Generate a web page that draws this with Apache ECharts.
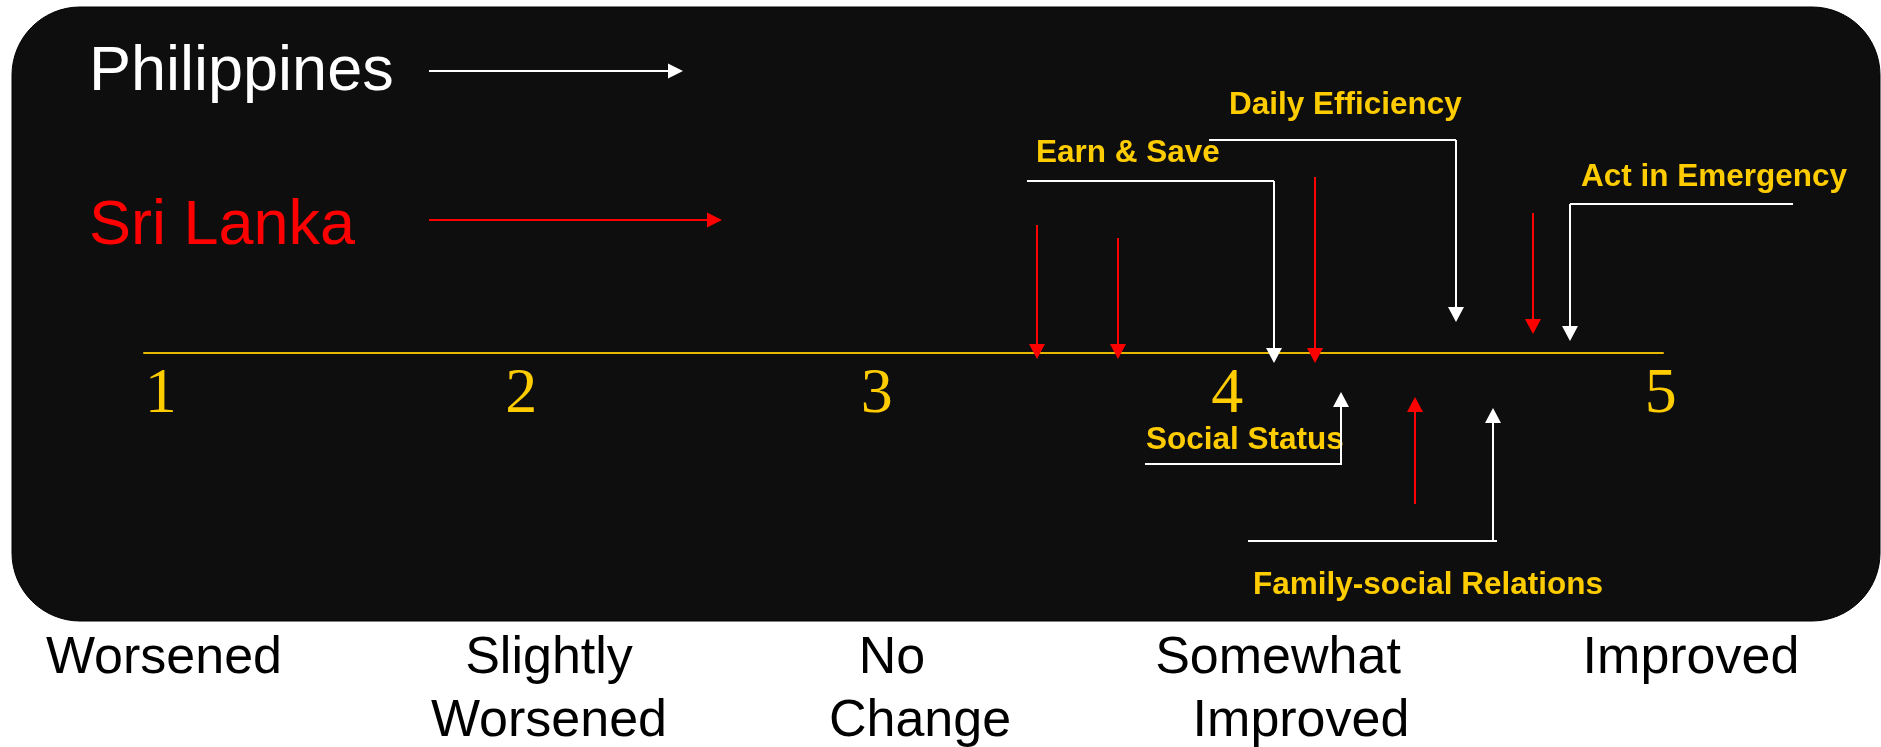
<!DOCTYPE html>
<html>
<head>
<meta charset="utf-8">
<title>Change after training: Philippines vs Sri Lanka</title>
<script src="https://cdn.jsdelivr.net/npm/echarts@6/dist/echarts.min.js"></script>
<style>
  html, body { margin: 0; padding: 0; background: #ffffff; }
  #chart { width: 1881px; height: 747px; }
</style>
</head>
<body>
<div id="chart"></div>
<script>
// ---------- data ----------
const countries = ['Philippines', 'Sri Lanka'];
const categories = ['Earn & Save', 'Daily Efficiency', 'Act in Emergency', 'Social Status', 'Family-social Relations'];
const philippines = [4.04, 4.53, 4.84, 4.22, 4.63];
const sriLanka = [3.40, 4.15, 4.74, 3.62, 4.42];
const scaleValues = [1, 2, 3, 4, 5];
const scaleLabels = ['1', '2', '3', '4', '5'];
const answerLabels = [['Worsened'], ['Slightly', 'Worsened'], ['No', 'Change'], ['Somewhat', 'Improved'], ['Improved']];

// ---------- styling / layout ----------
const GOLD = '#FFCC00';
const AXIS_GOLD = '#E6B800';
const WHITE = '#FFFFFF';
const RED = '#FF0000';
const PANEL = '#0E0E0E';
const SANS = '"Liberation Sans", Arial, Helvetica, sans-serif';
const SERIF = '"Liberation Serif", "Times New Roman", serif';
const LINE_Y = 353;            // scale line, px from top
const HEAD_LEN = 15, HEAD_W = 16;
const LABEL_FONT = 31.5;
const MID = 0.265;             // baseline offset of a middle-aligned sans line, in em

// arrow shafts: px from the scale line (negative = above); leaders and label offsets in px
const phShape = [
  { from: -172, to: 10,  leaderLeft: 247, leaderRight: 0,   textDx: 9,  textDy: -19 },
  { from: -213, to: -31, leaderLeft: 247, leaderRight: 0,   textDx: 20, textDy: -26 },
  { from: -149, to: -12, leaderLeft: 0,   leaderRight: 223, textDx: 11, textDy: -18 },
  { from: 111,  to: 39,  leaderLeft: 196, leaderRight: 1,   textDx: 1,  textDy: -15 },
  { from: 188,  to: 55,  leaderLeft: 245, leaderRight: 4,   textDx: 5,  textDy: 53 }
];
const slShape = [
  { from: -128, to: 6 },
  { from: -176, to: 10 },
  { from: -140, to: -19 },
  { from: -115, to: 6 },
  { from: 151,  to: 44 }
];

// small horizontal nudges for the hand-set scale captions
const digitNudge = [13, 3, -12, -32, 31];
const answerNudge = [[3], [8.5, 8.5], [-28, 0], [-21.5, 1.5], [12]];

function shiftPad(d) {
  return [0, d < 0 ? -2 * d : 0, 0, d > 0 ? 2 * d : 0];
}

const digitRich = {};
scaleValues.forEach(function (v, i) {
  digitRich['n' + i] = {
    fontFamily: SERIF, fontSize: 64, lineHeight: 64, color: GOLD,
    align: 'center', padding: shiftPad(digitNudge[i])
  };
});

const answerRich = {};
answerLabels.forEach(function (lines, i) {
  lines.forEach(function (t, j) {
    answerRich['b' + i + '_' + j] = {
      fontFamily: SANS, fontSize: 52, lineHeight: 63, color: '#000000',
      align: 'center', padding: shiftPad(answerNudge[i][j])
    };
  });
});

function textStyle(text, font, fill) {
  return {
    text: text, font: font, fill: fill,
    align: 'left', verticalAlign: 'middle',
    textAlign: 'left', textVerticalAlign: 'middle'
  };
}

function arrowRenderer(color, shapes, withLabels) {
  return function (params, api) {
    const i = params.dataIndex;
    const s = shapes[i];
    const v = api.value(0);
    const x = Math.round(api.coord([v, 0])[0]);
    const y0 = api.coord([v, s.from])[1];
    const y1 = api.coord([v, s.to])[1];
    const dir = y1 > y0 ? 1 : -1;
    const base = y1 - dir * HEAD_LEN;
    const children = [];
    if (withLabels) {
      const left = x - s.leaderLeft;
      const right = x + s.leaderRight;
      const baseline = y0 + s.textDy;
      children.push({
        type: 'text',
        x: left + s.textDx,
        y: baseline - MID * LABEL_FONT,
        style: textStyle(categories[i], 'bold ' + LABEL_FONT + 'px ' + SANS, GOLD)
      });
      children.push({
        type: 'line',
        shape: { x1: left, y1: y0, x2: right, y2: y0 },
        style: { stroke: color, lineWidth: 2 }
      });
    }
    children.push({
      type: 'line',
      shape: { x1: x, y1: y0, x2: x, y2: base },
      style: { stroke: color, lineWidth: 2 }
    });
    children.push({
      type: 'polygon',
      shape: { points: [[x - HEAD_W / 2, base], [x + HEAD_W / 2, base], [x, y1]] },
      style: { fill: color }
    });
    return { type: 'group', children: children };
  };
}

function legendArrow(y, x0, x1, color) {
  return [
    { type: 'line', shape: { x1: x0, y1: y, x2: x1 - HEAD_LEN, y2: y }, style: { stroke: color, lineWidth: 2 } },
    { type: 'polygon', shape: { points: [[x1 - HEAD_LEN, y - 7.5], [x1 - HEAD_LEN, y + 7.5], [x1, y]] }, style: { fill: color } }
  ];
}

const chart = echarts.init(document.getElementById('chart'), null, { renderer: 'canvas' });

const option = {
  animation: false,
  backgroundColor: '#FFFFFF',
  graphic: {
    elements: [
      {
        type: 'rect', z: -10,
        shape: { x: 12, y: 7, width: 1868, height: 614, r: 68 },
        style: { fill: PANEL, stroke: '#000000', lineWidth: 1 }
      },
      {
        type: 'text', x: 89, y: 89 - MID * 63,
        style: textStyle(countries[0], '63px ' + SANS, WHITE)
      },
      {
        type: 'text', x: 89, y: 243 - MID * 63,
        style: textStyle(countries[1], '63px ' + SANS, RED)
      }
    ].concat(legendArrow(71, 429, 683, WHITE)).concat(legendArrow(220, 429, 722, RED))
  },
  grid: [
    // plot area ends on the scale line; arrows below it extend past the grid edge
    { left: 144, right: 218, top: 0, height: LINE_Y, outerBoundsMode: 'none', containLabel: false },
    { left: 161, right: 202, top: 610, height: 2, outerBoundsMode: 'none', containLabel: false }
  ],
  xAxis: [
    {
      type: 'value', gridIndex: 0, min: 0.99, max: 5.09, position: 'bottom',
      axisLine: { onZero: false, lineStyle: { color: AXIS_GOLD, width: 2 } },
      axisTick: { show: false },
      splitLine: { show: false },
      axisLabel: {
        customValues: scaleValues,
        margin: 10,
        formatter: function (v) {
          const i = scaleValues.indexOf(Math.round(v));
          return '{n' + i + '|' + scaleLabels[i] + '}';
        },
        rich: digitRich
      }
    },
    {
      type: 'value', gridIndex: 1, min: 1, max: 5, interval: 1, position: 'bottom',
      axisLine: { show: false, onZero: false },
      axisTick: { show: false },
      splitLine: { show: false },
      axisLabel: {
        margin: 15,
        formatter: function (v) {
          const i = Math.round(v) - 1;
          return answerLabels[i].map(function (t, j) {
            return '{b' + i + '_' + j + '|' + t + '}';
          }).join('\n');
        },
        rich: answerRich
      }
    }
  ],
  yAxis: [
    { type: 'value', gridIndex: 0, min: -LINE_Y, max: 0, inverse: true, show: false },
    { type: 'value', gridIndex: 1, min: 0, max: 1, show: false }
  ],
  series: [
    {
      name: countries[1], type: 'custom', xAxisIndex: 0, yAxisIndex: 0, z: 4, silent: true, clip: false,
      data: sriLanka.map(function (v, i) { return [v, 0, i]; }),
      encode: { x: 0, y: 1 },
      renderItem: arrowRenderer(RED, slShape, false)
    },
    {
      name: countries[0], type: 'custom', xAxisIndex: 0, yAxisIndex: 0, z: 5, silent: true, clip: false,
      data: philippines.map(function (v, i) { return [v, 0, i]; }),
      encode: { x: 0, y: 1 },
      renderItem: arrowRenderer(WHITE, phShape, true)
    }
  ]
};

chart.setOption(option);
</script>
</body>
</html>
